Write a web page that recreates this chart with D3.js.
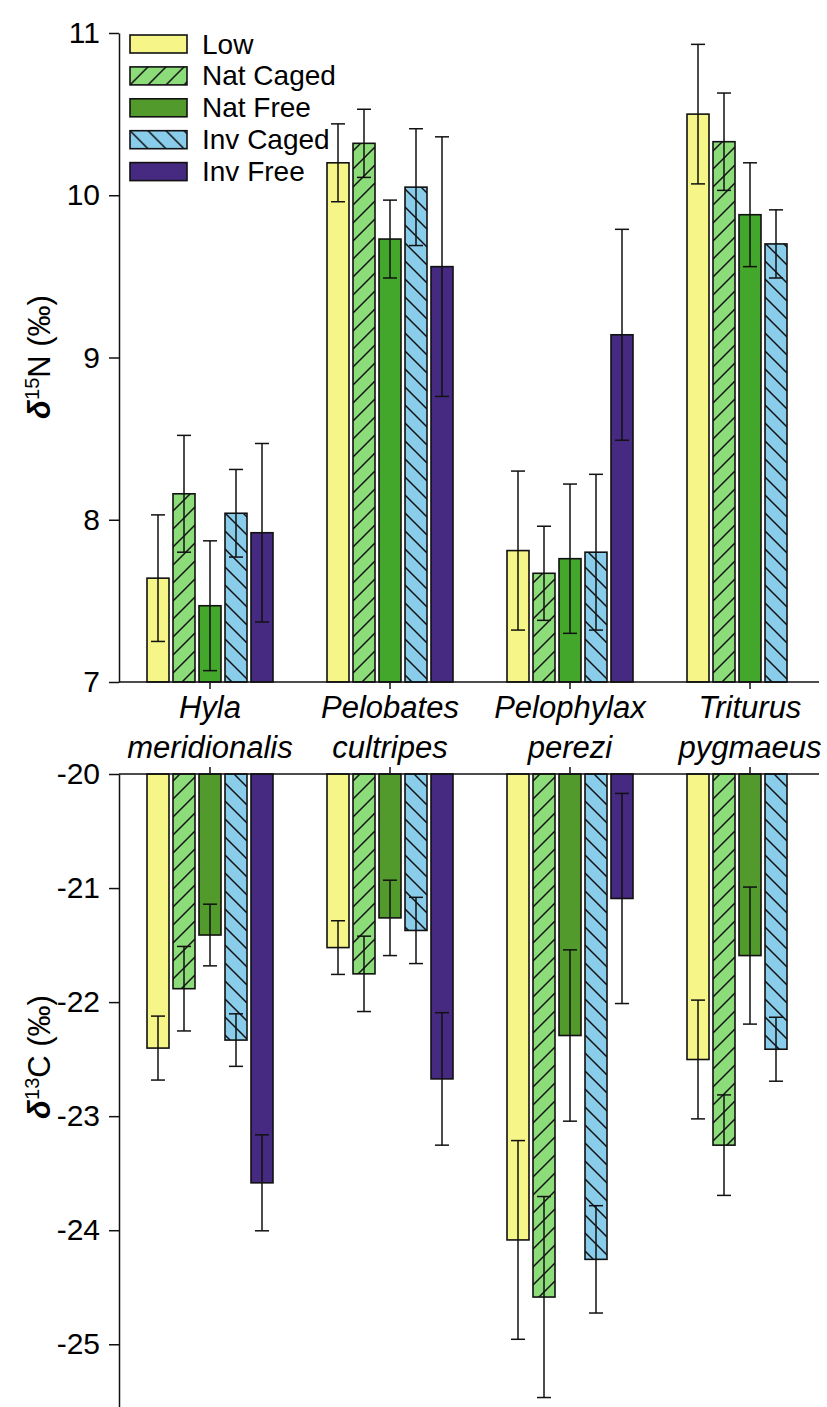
<!DOCTYPE html>
<html>
<head>
<meta charset="utf-8">
<script src="https://cdn.jsdelivr.net/npm/d3@7"></script>
<style>
  body { margin: 0; background: #fff; }
  svg text { font-family: "Liberation Sans", Arial, sans-serif; fill: #000; }
</style>
</head>
<body>
<div id="chart"></div>
<script>
// canvas
const WIDTH = 827;
const HEIGHT = 1407;

// data
const species = ["Hyla meridionalis", "Pelobates cultripes", "Pelophylax perezi", "Triturus pygmaeus"];
const treatments = ["Low", "Nat Caged", "Nat Free", "Inv Caged", "Inv Free"];

// delta 15N means and SE, one array per treatment (species order)
const n15Low      = [7.64, 10.20, 7.81, 10.50];
const n15NatCaged = [8.16, 10.32, 7.67, 10.33];
const n15NatFree  = [7.47, 9.73, 7.76, 9.88];
const n15InvCaged = [8.04, 10.05, 7.80, 9.70];
const n15InvFree  = [7.92, 9.56, 9.14, null];
const n15SeLow      = [0.39, 0.24, 0.49, 0.43];
const n15SeNatCaged = [0.36, 0.21, 0.29, 0.30];
const n15SeNatFree  = [0.40, 0.24, 0.46, 0.32];
const n15SeInvCaged = [0.27, 0.36, 0.48, 0.21];
const n15SeInvFree  = [0.55, 0.80, 0.65, null];

// delta 13C means and SE
const c13Low      = [-22.40, -21.52, -24.08, -22.50];
const c13NatCaged = [-21.88, -21.75, -24.58, -23.25];
const c13NatFree  = [-21.41, -21.26, -22.29, -21.59];
const c13InvCaged = [-22.33, -21.37, -24.25, -22.41];
const c13InvFree  = [-23.58, -22.67, -21.09, null];
const c13SeLow      = [0.28, 0.235, 0.87, 0.52];
const c13SeNatCaged = [0.37, 0.33, 0.88, 0.44];
const c13SeNatFree  = [0.27, 0.33, 0.75, 0.60];
const c13SeInvCaged = [0.23, 0.29, 0.47, 0.28];
const c13SeInvFree  = [0.42, 0.58, 0.92, null];

const n15Ticks = [7, 8, 9, 10, 11];
const c13Ticks = [-20, -21, -22, -23, -24, -25];

// build rows
function buildRows(means, ses) {
    let rows = [];
    species.forEach((sp, i) => {
        treatments.forEach((tr, j) => {
            if (means[j][i] == null) return;
            rows.push({ species: sp, treatment: tr, mean: means[j][i], se: ses[j][i] });
        });
    });
    return rows;
}
const n15Data = buildRows(
    [n15Low, n15NatCaged, n15NatFree, n15InvCaged, n15InvFree],
    [n15SeLow, n15SeNatCaged, n15SeNatFree, n15SeInvCaged, n15SeInvFree]);
const c13Data = buildRows(
    [c13Low, c13NatCaged, c13NatFree, c13InvCaged, c13InvFree],
    [c13SeLow, c13SeNatCaged, c13SeNatFree, c13SeInvCaged, c13SeInvFree]);

// scales
const AXIS_X = 119;
const AXIS_END = 819;

let xScale = d3.scaleBand()
    .domain(species)
    .range([120, 840]);

let xInner = d3.scaleBand()
    .domain(treatments)
    .range([-65, 65])
    .paddingInner(4 / 26)
    .paddingOuter(2 / 26);

let yTop = d3.scaleLinear()
    .domain([7, 11])
    .range([682, 33]);

let yBot = d3.scaleLinear()
    .domain([-20, -25])
    .range([774, 1345]);

let fills = d3.scaleOrdinal()
    .domain(treatments)
    .range(["#f6f587", "#8ddc7a", "#529a2b", "#89cdeb", "#462a81"]);
// the upper panel uses a brighter green for Nat Free
const natFreeTop = "#43a72c";

let hatch = d3.scaleOrdinal()
    .domain(treatments)
    .range([null, "fwd", null, "back", null]);

let svg = d3.select("#chart")
    .append("svg")
    .attr("width", WIDTH)
    .attr("height", HEIGHT);

// hatch patterns
let defs = svg.append("defs");
function makePattern(id, bg, dir) {
    let p = defs.append("pattern")
        .attr("id", id)
        .attr("patternUnits", "userSpaceOnUse")
        .attr("width", 18)
        .attr("height", 18);
    p.append("rect").attr("width", 18).attr("height", 18).attr("fill", bg);
    let d = dir == "fwd"
        ? "M-2,2 L2,-2 M0,18 L18,0 M16,20 L20,16"
        : "M-2,16 L2,20 M0,0 L18,18 M16,-2 L20,2";
    p.append("path").attr("d", d).attr("stroke", "#111").attr("stroke-width", 1.5);
}
makePattern("fwd", fills("Nat Caged"), "fwd");
makePattern("back", fills("Inv Caged"), "back");

function barFill(t, top) {
    if (hatch(t)) return "url(#" + hatch(t) + ")";
    if (top && t == "Nat Free") return natFreeTop;
    return fills(t);
}

function drawPanel(data, y, base, top) {
    let g = svg.append("g");

    g.selectAll(".bar")
        .data(data)
        .enter()
        .append("rect")
        .attr("class", "bar")
        .attr("x", d => xScale(d.species) + xScale.bandwidth() / 2 + xInner(d.treatment))
        .attr("width", xInner.bandwidth())
        .attr("y", d => Math.min(y(d.mean), y(base)))
        .attr("height", d => Math.abs(y(d.mean) - y(base)))
        .attr("fill", d => barFill(d.treatment, top))
        .attr("stroke", "#111")
        .attr("stroke-width", 1.6);

    let err = g.selectAll(".err")
        .data(data)
        .enter()
        .append("g")
        .attr("class", "err")
        .attr("transform", d => "translate(" + (xScale(d.species) + xScale.bandwidth() / 2 + xInner(d.treatment) + xInner.bandwidth() / 2) + ",0)");

    err.append("line")
        .attr("y1", d => y(d.mean - d.se))
        .attr("y2", d => y(d.mean + d.se))
        .attr("stroke", "#111")
        .attr("stroke-width", 1.5);
    err.append("line")
        .attr("x1", -7).attr("x2", 7)
        .attr("y1", d => y(d.mean + d.se))
        .attr("y2", d => y(d.mean + d.se))
        .attr("stroke", "#111")
        .attr("stroke-width", 1.5);
    err.append("line")
        .attr("x1", -7).attr("x2", 7)
        .attr("y1", d => y(d.mean - d.se))
        .attr("y2", d => y(d.mean - d.se))
        .attr("stroke", "#111")
        .attr("stroke-width", 1.5);
}

drawPanel(n15Data, yTop, 7, true);
drawPanel(c13Data, yBot, -20, false);

// y axes
function styleAxis(g) {
    g.selectAll("text")
        .attr("font-size", 30)
        .style("font-family", "'Liberation Sans', Arial, sans-serif");
    g.selectAll("line").attr("stroke", "#111").attr("stroke-width", 1.5);
    g.select(".domain").attr("stroke", "#111").attr("stroke-width", 1.5);
}

svg.append("g")
    .attr("transform", "translate(" + AXIS_X + ",0)")
    .call(d3.axisLeft(yTop).tickValues(n15Ticks).tickFormat(d => String(d))
        .tickSize(10).tickSizeOuter(0).tickPadding(9))
    .call(styleAxis);

let yBotAxis = d3.scaleLinear().domain([-20, -25.55]).range([774, 1407]);
svg.append("g")
    .attr("transform", "translate(" + AXIS_X + ",0)")
    .call(d3.axisLeft(yBotAxis).tickValues(c13Ticks).tickFormat(d => String(d))
        .tickSize(10).tickSizeOuter(0).tickPadding(9))
    .call(styleAxis);

// x axis lines and category ticks
[[682, 7], [774, -7]].forEach(([yy, len]) => {
    svg.append("line")
        .attr("x1", AXIS_X).attr("x2", AXIS_END)
        .attr("y1", yy).attr("y2", yy)
        .attr("stroke", "#111").attr("stroke-width", 1.5);
    svg.selectAll(null)
        .data(species)
        .enter()
        .append("line")
        .attr("x1", d => xScale(d) + xScale.bandwidth() / 2)
        .attr("x2", d => xScale(d) + xScale.bandwidth() / 2)
        .attr("y1", yy).attr("y2", yy + len)
        .attr("stroke", "#111").attr("stroke-width", 1.5);
});

// species labels
let labels = svg.selectAll(".sp")
    .data(species)
    .enter()
    .append("text")
    .attr("class", "sp")
    .attr("text-anchor", "middle")
    .attr("font-size", 31)
    .attr("font-style", "italic");
labels.append("tspan")
    .attr("x", d => xScale(d) + xScale.bandwidth() / 2)
    .attr("y", 718)
    .text(d => d.split(" ")[0]);
labels.append("tspan")
    .attr("x", d => xScale(d) + xScale.bandwidth() / 2)
    .attr("y", 758)
    .text(d => d.split(" ")[1]);

// axis titles
function axisTitle(cy, iso, el) {
    let t = svg.append("text")
        .attr("transform", "translate(50," + cy + ") rotate(-90)")
        .attr("text-anchor", "middle")
        .attr("font-size", 31);
    t.append("tspan").attr("font-weight", "bold").attr("font-style", "italic").text("δ");
    t.append("tspan").attr("font-size", 20).attr("baseline-shift", "super").text(iso);
    t.append("tspan").text(el + " (‰)");
}
axisTitle(357, "15", "N");
axisTitle(1057, "13", "C");

// legend
let legend = svg.selectAll(".legend")
    .data(treatments)
    .enter()
    .append("g")
    .attr("class", "legend")
    .attr("transform", (d, i) => "translate(130," + (35 + i * 31.9) + ")");
legend.append("rect")
    .attr("width", 57)
    .attr("height", 18)
    .attr("fill", d => barFill(d, false))
    .attr("stroke", "#111")
    .attr("stroke-width", 1.6);
legend.append("text")
    .attr("x", 72)
    .attr("y", 18.5)
    .attr("font-size", 28)
    .text(d => d);
</script>
</body>
</html>
